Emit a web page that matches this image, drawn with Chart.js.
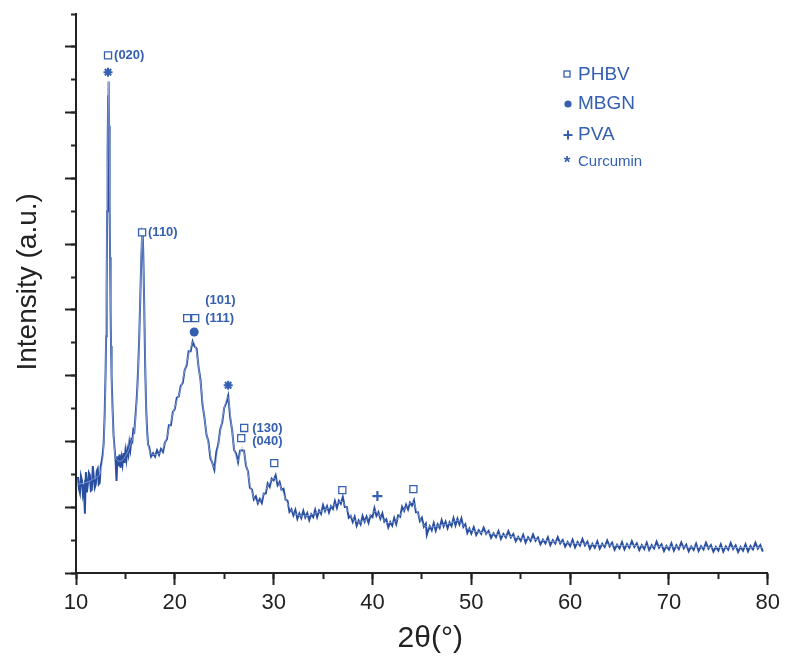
<!DOCTYPE html>
<html lang="en">
<head>
<meta charset="UTF-8">
<title>XRD pattern</title>
<script src="https://cdn.jsdelivr.net/npm/chart.js@4.4.1/dist/chart.umd.min.js"></script>
<style>
  html, body { margin: 0; padding: 0; background: #fff; }
</style>
</head>
<body>
<canvas id="xrd" width="785" height="657"></canvas>
<script>
// measured pattern (2theta in degrees, intensity in arbitrary units)
const twoTheta = [
  10.2, 10.3, 10.4, 10.5, 10.6, 10.7, 10.8, 10.9, 11.0, 11.1,
  11.2, 11.3, 11.4, 11.5, 11.6, 11.7, 11.8, 11.9, 12.0, 12.1,
  12.2, 12.3, 12.4, 12.5, 12.6,
  12.7, 12.8, 12.9, 13.0, 13.05, 13.1, 13.15, 13.2, 13.25, 13.3,
  13.35, 13.4, 13.45, 13.5, 13.55, 13.6, 13.7, 13.8, 13.9,
  14.0, 14.1, 14.2, 14.3, 14.4, 14.5, 14.6, 14.7, 14.8, 14.9,
  15.0, 15.1, 15.2, 15.3, 15.4, 15.5, 15.6, 15.7, 15.8, 15.9,
  16.0,
  16.1, 16.2, 16.3, 16.4, 16.5, 16.6, 16.7, 16.75, 16.8, 16.9,
  17.0, 17.1, 17.2, 17.3,
  17.4, 17.6, 17.8, 18.0, 18.2, 18.4, 18.6, 18.8, 19.0, 19.2,
  19.4, 19.6, 19.8, 20.0, 20.2, 20.4, 20.6, 20.8, 21.0, 21.2,
  21.4, 21.6, 21.8, 22.0, 22.2, 22.4, 22.6, 22.8, 23.0, 23.2,
  23.4, 23.6, 23.8, 24.0, 24.2, 24.4, 24.6, 24.8, 25.0, 25.2,
  25.4, 25.6, 25.8, 26.0, 26.2, 26.4, 26.6, 26.8, 27.0, 27.2,
  27.4, 27.6, 27.8, 28.0, 28.2, 28.4, 28.6, 28.8, 29.0, 29.2,
  29.4, 29.6, 29.8, 30.0,
  30.2, 30.4, 30.6, 30.8, 31.0, 31.2, 31.4, 31.6, 31.8, 32.0,
  32.2, 32.4, 32.6, 32.8, 33.0, 33.2, 33.4, 33.6, 33.8, 34.0,
  34.2, 34.4, 34.6, 34.8, 35.0, 35.2, 35.4, 35.6, 35.8, 36.0,
  36.2, 36.4, 36.6, 36.8, 37.0, 37.2, 37.4, 37.6, 37.8, 38.0,
  38.2, 38.4, 38.6, 38.8, 39.0, 39.2, 39.4, 39.6, 39.8, 40.0,
  40.2, 40.4, 40.6, 40.8, 41.0, 41.2, 41.4, 41.6, 41.8, 42.0,
  42.2, 42.4, 42.6, 42.8, 43.0, 43.2, 43.4, 43.6, 43.8, 44.0,
  44.2, 44.4, 44.6, 44.8, 45.0, 45.2, 45.4, 45.5, 45.6, 45.8, 46.0,
  46.2, 46.4, 46.6, 46.8, 47.0, 47.2, 47.4, 47.6, 47.8, 48.0,
  48.2, 48.4, 48.6, 48.8, 49.0, 49.2, 49.4, 49.6, 49.8, 50.0,
  50.25, 50.5, 50.75, 51.0, 51.25, 51.5, 51.75, 52.0, 52.25, 52.5,
  52.75, 53.0, 53.25, 53.5, 53.75, 54.0, 54.25, 54.5, 54.75, 55.0,
  55.25, 55.5, 55.75, 56.0, 56.25, 56.5, 56.75, 57.0, 57.25, 57.5,
  57.75, 58.0, 58.25, 58.5, 58.75, 59.0, 59.25, 59.5, 59.75, 60.0,
  60.25, 60.5, 60.75, 61.0, 61.25, 61.5, 61.75, 62.0, 62.25, 62.5,
  62.75, 63.0, 63.25, 63.5, 63.75, 64.0, 64.25, 64.5, 64.75, 65.0,
  65.25, 65.5, 65.75, 66.0, 66.25, 66.5, 66.75, 67.0, 67.25, 67.5,
  67.75, 68.0, 68.25, 68.5, 68.75, 69.0, 69.25, 69.5, 69.75, 70.0,
  70.25, 70.5, 70.75, 71.0, 71.25, 71.5, 71.75, 72.0, 72.25, 72.5,
  72.75, 73.0, 73.25, 73.5, 73.75, 74.0, 74.25, 74.5, 74.75, 75.0,
  75.25, 75.5, 75.75, 76.0, 76.25, 76.5, 76.75, 77.0, 77.25, 77.5,
  77.75, 78.0, 78.25, 78.5, 78.75, 79.0, 79.25, 79.5
];
const intensity = [
  2.92, 2.55, 2.43, 2.95, 2.82, 2.40, 2.58, 1.80, 3.07, 2.45,
  2.70, 3.05, 2.98, 2.50, 2.53, 3.25, 2.91, 2.60, 2.70, 3.10,
  3.17, 2.70, 2.74, 3.25, 3.40,
  3.60, 3.95, 4.80, 6.20, 7.20, 8.60, 11.0, 12.8, 14.5, 14.95,
  13.6, 11.2, 9.6, 8.0, 6.9, 6.0, 5.0, 4.2, 3.8,
  3.45, 2.80, 3.55, 3.25, 3.60, 3.20, 3.50, 3.30, 3.65, 3.35,
  3.70, 3.45, 3.75, 3.60, 3.95, 3.75, 4.05, 4.00, 4.35, 4.30,
  4.70,
  5.10, 5.60, 6.30, 7.20, 8.30, 9.50, 10.35, 10.3, 9.80, 8.20,
  6.30, 5.00, 4.30, 3.90,
  3.84, 3.54, 3.64, 3.54, 3.73, 3.59, 3.77, 3.68, 3.97, 4.07,
  4.49, 4.49, 4.89, 4.99, 5.33, 5.37, 5.69, 5.78, 6.17, 6.32,
  6.74, 6.74, 7.04, 6.89, 6.83, 6.27, 5.87, 5.13, 4.72, 4.22,
  3.99, 3.49, 3.34, 3.14, 3.68, 3.92, 4.37, 4.58, 5.02, 5.17,
  5.39, 4.74, 4.34, 3.74, 3.63, 3.37, 3.72, 3.73, 3.72, 3.27,
  3.09, 2.59, 2.54, 2.24, 2.33, 2.12, 2.25, 2.13, 2.42, 2.42,
  2.72, 2.62, 2.87, 2.82,
  2.97, 2.67, 2.77, 2.53, 2.56, 2.23, 2.20, 1.86, 1.94, 1.75,
  1.92, 1.65, 1.81, 1.67, 1.89, 1.69, 1.82, 1.61, 1.79, 1.70,
  1.92, 1.70, 1.90, 1.80, 2.06, 1.88, 2.03, 1.84, 2.03, 1.95,
  2.19, 1.98, 2.20, 2.11, 2.31, 2.01, 2.01, 1.68, 1.74, 1.55,
  1.71, 1.44, 1.60, 1.48, 1.73, 1.56, 1.71, 1.53, 1.75, 1.70,
  1.97, 1.74, 1.85, 1.65, 1.81, 1.56, 1.63, 1.39, 1.55, 1.44,
  1.67, 1.49, 1.75, 1.71, 2.01, 1.89, 2.08, 1.93, 2.14, 2.05,
  2.21, 1.85, 1.85, 1.58, 1.68, 1.41, 1.50, 1.16, 1.26, 1.42, 1.30,
  1.52, 1.29, 1.48, 1.37, 1.61, 1.42, 1.56, 1.36, 1.54, 1.43,
  1.67, 1.45, 1.65, 1.48, 1.66, 1.40, 1.48, 1.22, 1.35, 1.20,
  1.39, 1.16, 1.30, 1.19, 1.38, 1.19, 1.28, 1.07, 1.21, 1.09,
  1.27, 1.04, 1.19, 1.08, 1.27, 1.08, 1.18, 0.97, 1.10, 0.98,
  1.16, 0.93, 1.09, 0.98, 1.17, 0.98, 1.08, 0.87, 1.01, 0.90,
  1.08, 0.85, 1.00, 0.90, 1.09, 0.90, 1.00, 0.80, 0.94, 0.82,
  1.01, 0.78, 0.94, 0.83, 1.03, 0.84, 0.95, 0.74, 0.89, 0.77,
  0.96, 0.74, 0.89, 0.79, 0.99, 0.81, 0.92, 0.71, 0.86, 0.75,
  0.94, 0.72, 0.88, 0.77, 0.97, 0.79, 0.90, 0.70, 0.85, 0.73,
  0.92, 0.70, 0.85, 0.75, 0.95, 0.77, 0.87, 0.67, 0.82, 0.71,
  0.90, 0.68, 0.84, 0.73, 0.93, 0.75, 0.86, 0.66, 0.81, 0.70,
  0.89, 0.67, 0.82, 0.72, 0.92, 0.74, 0.85, 0.65, 0.79, 0.68,
  0.87, 0.65, 0.81, 0.71, 0.91, 0.73, 0.84, 0.64, 0.79, 0.68,
  0.87, 0.66, 0.82, 0.72, 0.92, 0.74, 0.85, 0.65
];

// smoothed trace running through the noisy pattern
const fitTheta = [
  10.2, 11, 12, 12.5, 12.8, 13.0, 13.15, 13.3, 13.45, 13.6,
  13.8, 14.0, 14.5, 15.0, 15.5, 16.0, 16.3, 16.5, 16.7, 16.9,
  17.1, 17.3, 17.8, 18.5, 19.0, 19.5, 20.0, 20.5, 21.0, 21.5,
  21.9, 22.2, 22.6, 23.0, 23.5, 24.0, 24.5, 25.0, 25.35, 25.7,
  26.0, 26.4, 26.8, 27.2, 27.6, 28.0, 28.5, 29.0, 29.5, 30.0,
  30.5, 31.0, 31.5, 32.0, 33.0, 34.0, 35.0, 36.0, 36.9, 37.5,
  38.0, 38.8, 39.5, 40.3, 40.8, 41.5, 42.2, 43.0, 43.8, 44.1,
  44.6, 45.2, 46.0, 47.0, 48.0, 48.6, 49.3, 50.0, 52, 55,
  58, 61, 64, 67, 70, 73, 76, 79.5
];
const fitIntensity = [
  2.7, 2.75, 2.9, 3.1, 3.9, 6.2, 11, 14.95, 9.6, 6.0,
  4.2, 3.5, 3.4, 3.55, 3.9, 4.6, 6.2, 8.3, 10.35, 8.2,
  5.0, 3.9, 3.6, 3.65, 3.95, 4.5, 5.05, 5.5, 6.15, 6.75,
  7.05, 6.7, 5.8, 4.7, 3.75, 3.2, 4.1, 5.0, 5.35, 4.6,
  3.8, 3.4, 3.85, 3.35, 2.7, 2.3, 2.15, 2.4, 2.7, 2.88,
  2.75, 2.4, 2.05, 1.85, 1.73, 1.8, 1.9, 2.05, 2.18, 1.9,
  1.65, 1.55, 1.65, 1.88, 1.72, 1.53, 1.55, 1.85, 2.12, 2.15,
  1.8, 1.45, 1.4, 1.45, 1.53, 1.6, 1.42, 1.3, 1.2, 1.07,
  0.97, 0.89, 0.85, 0.83, 0.8, 0.79, 0.77, 0.78
];

// phase markers (where the symbols sit)
const phbvTheta = [13.24, 16.69, 21.25, 22.06, 26.72, 27.02, 30.06, 36.95, 44.14];
const phbvLevel = [15.74, 10.36, 7.75, 7.75, 4.10, 4.41, 3.34, 2.52, 2.55];
const mbgnTheta = [21.96];
const mbgnLevel = [7.33];
const pvaTheta = [40.5];
const pvaLevel = [2.34];
const curcuminTheta = [13.24, 25.4];
const curcuminLevel = [15.23, 5.71];

// Miller indices next to the PHBV peaks
const hklText = ['(020)', '(110)', '(101)', '(111)', '(130)', '(040)'];
const hklTheta = [13.85, 17.29, 23.07, 23.07, 27.83, 27.83];
const hklLevel = [15.74, 10.36, 8.30, 7.75, 4.41, 4.01];

const phaseNames = ['PHBV', 'MBGN', 'PVA', 'Curcumin'];

const curveColor = '#2a4fa0';
const markColor = '#3560b1';
const axisColor = '#222222';
const fontFamily = '"Liberation Sans", Arial, Helvetica, sans-serif';

Chart.defaults.font.family = fontFamily;

const toPoints = (xs, ys) => xs.map((v, i) => ({ x: v, y: ys[i] }));

const labelsPlugin = {
  id: 'phaseLabels',
  afterDatasetsDraw(chart) {
    const { ctx } = chart;
    const x = chart.scales.x;
    const y = chart.scales.y;
    ctx.save();
    ctx.fillStyle = markColor;
    ctx.textBaseline = 'middle';
    ctx.textAlign = 'left';
    ctx.font = 'bold 13px ' + fontFamily;
    hklText.forEach((t, i) => {
      ctx.fillText(t, x.getPixelForValue(hklTheta[i]), y.getPixelForValue(hklLevel[i]));
    });

    // legend box in the upper right
    const lx = 567, tx = 578;
    const rows = [74, 104, 135, 162];
    ctx.strokeStyle = markColor;
    ctx.lineWidth = 1.3;
    ctx.strokeRect(lx - 3, rows[0] - 3, 6, 6);
    ctx.beginPath();
    ctx.arc(lx + 1, rows[1], 3.6, 0, Math.PI * 2);
    ctx.fill();
    ctx.lineWidth = 2;
    ctx.beginPath();
    ctx.moveTo(lx - 3.5, rows[2]); ctx.lineTo(lx + 5.5, rows[2]);
    ctx.moveTo(lx + 1, rows[2] - 4.5); ctx.lineTo(lx + 1, rows[2] + 4.5);
    ctx.stroke();
    ctx.font = 'bold 17px ' + fontFamily;
    ctx.textAlign = 'center';
    ctx.fillText('*', lx, rows[3] + 1);

    ctx.textAlign = 'left';
    ctx.font = '19px ' + fontFamily;
    ctx.fillText(phaseNames[0], tx, rows[0] + 1);
    ctx.fillText(phaseNames[1], tx, rows[1]);
    ctx.fillText(phaseNames[2], tx, rows[2]);
    ctx.font = '15px ' + fontFamily;
    ctx.fillText(phaseNames[3], tx, rows[3]);
    ctx.restore();
  }
};

const tickGrid = (len) => ({
  drawOnChartArea: false,
  tickLength: len,
  tickWidth: 2,
  tickColor: axisColor
});

new Chart(document.getElementById('xrd'), {
  type: 'scatter',
  data: {
    datasets: [
      {
        label: 'pattern',
        data: toPoints(twoTheta, intensity),
        showLine: true,
        borderColor: curveColor,
        borderWidth: 2,
        pointRadius: 0,
        order: 3
      },
      {
        label: 'fit',
        data: toPoints(fitTheta, fitIntensity),
        showLine: true,
        borderColor: 'rgba(185, 204, 238, 0.6)',
        borderWidth: 1,
        pointRadius: 0,
        cubicInterpolationMode: 'monotone',
        order: 2
      },
      {
        label: phaseNames[0],
        data: toPoints(phbvTheta, phbvLevel),
        pointStyle: 'rect',
        pointRadius: 5,
        pointBorderWidth: 1.3,
        borderColor: markColor,
        backgroundColor: '#ffffff',
        order: 1
      },
      {
        label: phaseNames[1],
        data: toPoints(mbgnTheta, mbgnLevel),
        pointStyle: 'circle',
        pointRadius: 4.5,
        pointBorderWidth: 0,
        borderColor: markColor,
        backgroundColor: markColor,
        order: 1
      },
      {
        label: phaseNames[2],
        data: toPoints(pvaTheta, pvaLevel),
        pointStyle: 'cross',
        pointRadius: 5,
        pointBorderWidth: 2.2,
        borderColor: markColor,
        order: 1
      },
      {
        label: phaseNames[3],
        data: toPoints(curcuminTheta, curcuminLevel),
        pointStyle: 'star',
        pointRadius: 4.5,
        pointBorderWidth: 2,
        borderColor: markColor,
        order: 1
      }
    ]
  },
  options: {
    responsive: false,
    animation: false,
    events: [],
    layout: { padding: { top: 14, right: 17, left: 0, bottom: 0 } },
    plugins: {
      legend: { display: false },
      tooltip: { enabled: false }
    },
    scales: {
      x: {
        type: 'linear',
        position: 'bottom',
        min: 10,
        max: 80,
        afterFit: (s) => { s.height = 84; },
        ticks: { stepSize: 10, color: axisColor, font: { size: 22 }, padding: 5 },
        grid: tickGrid(12),
        border: { color: axisColor, width: 2 },
        title: {
          display: true,
          text: '  2θ(°)',
          color: axisColor,
          font: { size: 30 },
          padding: { top: 0, bottom: 0 }
        }
      },
      xMinor: {
        type: 'linear',
        axis: 'x',
        position: { y: 0 },
        min: 10,
        max: 80,
        ticks: { stepSize: 5, display: false },
        grid: tickGrid(6),
        border: { display: false }
      },
      y: {
        type: 'linear',
        position: 'left',
        min: 0,
        max: 17,
        afterFit: (s) => { s.width = 76; },
        afterBuildTicks: (s) => { s.ticks = s.ticks.filter(t => t.value % 2 === 0); },
        ticks: { stepSize: 2, display: false },
        grid: tickGrid(11),
        border: { color: axisColor, width: 2 },
        title: {
          display: true,
          text: '   Intensity (a.u.)',
          color: axisColor,
          font: { size: 28 },
          padding: { top: 11, bottom: 0 }
        }
      },
      yMinor: {
        type: 'linear',
        axis: 'y',
        position: { x: 10 },
        min: 0,
        max: 17,
        ticks: { stepSize: 1, display: false },
        grid: tickGrid(5),
        border: { display: false }
      }
    }
  },
  plugins: [labelsPlugin]
});
</script>
</body>
</html>
